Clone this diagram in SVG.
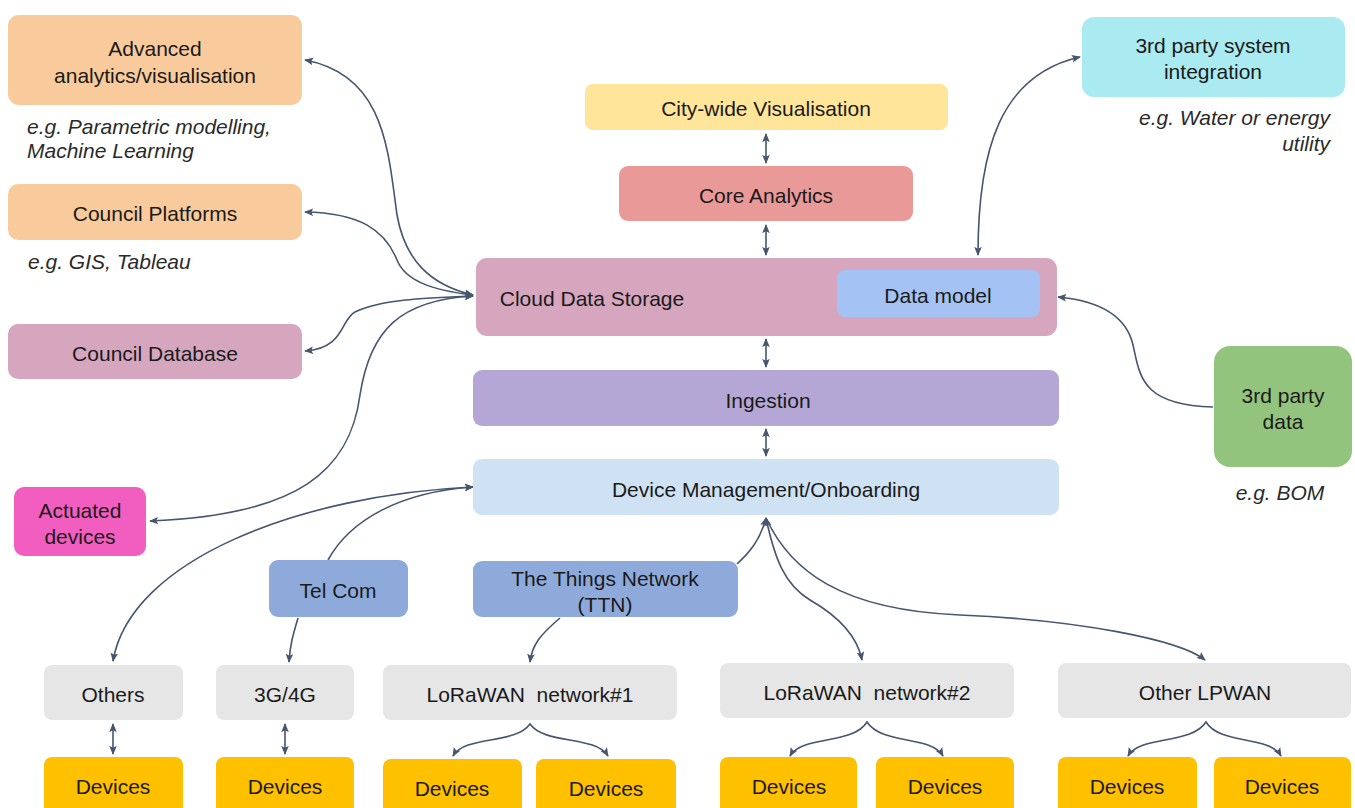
<svg xmlns="http://www.w3.org/2000/svg" width="1355" height="808" viewBox="0 0 1355 808">
<defs>
<marker id="ah" viewBox="0 0 10 10" refX="9" refY="5" markerWidth="9" markerHeight="9" markerUnits="userSpaceOnUse" orient="auto-start-reverse"><path d="M0,0.8 L10,5 L0,9.2 L2,5 z" fill="#45566d"/></marker>
<style>
.n text{font-family:"Liberation Sans",Arial,sans-serif;font-size:21px;fill:#1a1a1a;text-anchor:middle;dominant-baseline:central}
.cap{font-family:"Liberation Sans",Arial,sans-serif;font-size:21px;fill:#2a2a2a;font-style:italic;dominant-baseline:central}
.c path{fill:none;stroke:#45566d;stroke-width:1.6}
.b{marker-start:url(#ah);marker-end:url(#ah)}
.e{marker-end:url(#ah)}
.orange{fill:#f9cb9c}.pink{fill:#d5a6bd}.mag{fill:#f25ec0}.yel{fill:#ffe599}.red{fill:#ea9999}
.blue{fill:#a4c2f4}.purp{fill:#b4a7d6}.lblue{fill:#cfe2f3}.cyan{fill:#aaeaf1}.green{fill:#93c47d}
.tel{fill:#8eaadb}.grey{fill:#e6e6e6}.dev{fill:#ffc000}
</style>
</defs>
<rect width="1355" height="808" fill="#ffffff"/>

<g class="c" id="connectors">
<path class="b" d="M766,134 L766,163"/>
<path class="b" d="M766,225 L766,255"/>
<path class="b" d="M766,339 L766,367"/>
<path class="b" d="M766,429 L766,456"/>
<path class="b" d="M113,724 L113,754"/>
<path class="b" d="M285,724 L285,754"/>
<path class="b" d="M473,295 C430,285 405,260 397,215 C388,150 385,75 305,60"/>
<path class="b" d="M473,295 C430,290 405,280 397,260 C385,230 360,213 305,212"/>
<path class="b" d="M473,296 C420,298 380,300 355,312 C340,320 345,348 305,351"/>
<path class="b" d="M473,296 C400,300 370,330 360,395 C350,470 300,515 150,521"/>
<path class="b" d="M473,487 C300,495 130,560 113,661"/>
<path class="e" d="M328,560 C350,520 400,492 473,487"/>
<path class="e" d="M298,618 C293,635 290,645 289,662"/>
<path class="e" d="M560,618 C540,635 532,645 530,662"/>
<path class="b" d="M978,255 C978,150 1000,75 1080,57"/>
<path class="e" d="M1213,407 C1140,405 1140,375 1133,345 C1125,310 1090,300 1058,297"/>
<path class="e" d="M737,564 C750,552 760,540 766,518"/>
<path class="b" d="M766,518 C775,560 785,585 810,600 C845,620 858,640 862,660"/>
<path class="e" d="M766,518 C790,570 840,610 960,615 C1080,620 1180,640 1205,660"/>
<path class="b" d="M453,756 C465,735 515,745 530,724 C545,745 595,735 608,756"/>
<path class="b" d="M790,756 C802,735 853,745 867,722 C882,745 931,735 943,756"/>
<path class="b" d="M1128,756 C1140,735 1191,745 1206,722 C1220,745 1269,735 1281,756"/>
</g>

<g class="n" id="advanced"><rect class="orange" x="8" y="15" width="294" height="90" rx="11"/><text x="155" y="48">Advanced</text><text x="155" y="75">analytics/visualisation</text></g>
<text class="cap" x="27" y="126">e.g. Parametric modelling,</text>
<text class="cap" x="27" y="150">Machine Learning</text>
<g class="n" id="council-platforms"><rect class="orange" x="8" y="184" width="294" height="56" rx="10"/><text x="155" y="213">Council Platforms</text></g>
<text class="cap" x="28" y="261">e.g. GIS, Tableau</text>
<g class="n" id="council-database"><rect class="pink" x="8" y="324" width="294" height="55" rx="10"/><text x="155" y="353">Council Database</text></g>
<g class="n" id="actuated"><rect class="mag" x="14" y="487" width="132" height="69" rx="10"/><text x="80" y="510">Actuated</text><text x="80" y="536">devices</text></g>

<g class="n" id="city-vis"><rect class="yel" x="585" y="84" width="363" height="46" rx="8"/><text x="766" y="108">City-wide Visualisation</text></g>
<g class="n" id="core"><rect class="red" x="619" y="166" width="294" height="55" rx="9"/><text x="766" y="195">Core Analytics</text></g>
<g class="n" id="cloud"><rect class="pink" x="476" y="258" width="581" height="78" rx="11"/><text x="592" y="298">Cloud Data Storage</text>
<g id="data-model"><rect class="blue" x="837" y="270" width="203" height="47" rx="8"/><text x="938" y="295">Data model</text></g></g>
<g class="n" id="ingestion"><rect class="purp" x="473" y="370" width="586" height="56" rx="9"/><text x="768" y="400">Ingestion</text></g>
<g class="n" id="devmgmt"><rect class="lblue" x="473" y="459" width="586" height="56" rx="9"/><text x="766" y="489">Device Management/Onboarding</text></g>

<g class="n" id="third-sys"><rect class="cyan" x="1082" y="17" width="263" height="80" rx="12"/><text x="1213" y="45">3rd party system</text><text x="1213" y="71">integration</text></g>
<text class="cap" x="1330" y="117" text-anchor="end">e.g. Water or energy</text>
<text class="cap" x="1330" y="143" text-anchor="end">utility</text>
<g class="n" id="third-data"><rect class="green" x="1214" y="346" width="138" height="121" rx="16"/><text x="1283" y="395">3rd party</text><text x="1283" y="421">data</text></g>
<text class="cap" x="1280" y="492" text-anchor="middle">e.g. BOM</text>

<g class="n" id="telcom"><rect class="tel" x="269" y="560" width="139" height="57" rx="9"/><text x="338" y="590">Tel Com</text></g>
<g class="n" id="ttn"><rect class="tel" x="473" y="561" width="265" height="56" rx="9"/><text x="605" y="578">The Things Network</text><text x="605" y="604">(TTN)</text></g>

<g class="n" id="others"><rect class="grey" x="44" y="665" width="139" height="55" rx="8"/><text x="113" y="694">Others</text></g>
<g class="n" id="g34"><rect class="grey" x="216" y="665" width="138" height="55" rx="8"/><text x="285" y="694">3G/4G</text></g>
<g class="n" id="lora1"><rect class="grey" x="383" y="665" width="294" height="55" rx="8"/><text x="530" y="694" xml:space="preserve">LoRaWAN  network#1</text></g>
<g class="n" id="lora2"><rect class="grey" x="720" y="663" width="294" height="55" rx="8"/><text x="867" y="692" xml:space="preserve">LoRaWAN  network#2</text></g>
<g class="n" id="lpwan"><rect class="grey" x="1058" y="663" width="293" height="55" rx="8"/><text x="1205" y="692">Other LPWAN</text></g>

<g class="n" id="dev1"><rect class="dev" x="44" y="757" width="139" height="60" rx="8"/><text x="113" y="786">Devices</text></g>
<g class="n" id="dev2"><rect class="dev" x="216" y="757" width="138" height="60" rx="8"/><text x="285" y="786">Devices</text></g>
<g class="n" id="dev3"><rect class="dev" x="383" y="759" width="139" height="60" rx="8"/><text x="452" y="788">Devices</text></g>
<g class="n" id="dev4"><rect class="dev" x="536" y="759" width="140" height="60" rx="8"/><text x="606" y="788">Devices</text></g>
<g class="n" id="dev5"><rect class="dev" x="720" y="757" width="137" height="60" rx="8"/><text x="789" y="786">Devices</text></g>
<g class="n" id="dev6"><rect class="dev" x="876" y="757" width="138" height="60" rx="8"/><text x="945" y="786">Devices</text></g>
<g class="n" id="dev7"><rect class="dev" x="1058" y="757" width="139" height="60" rx="8"/><text x="1127" y="786">Devices</text></g>
<g class="n" id="dev8"><rect class="dev" x="1214" y="757" width="137" height="60" rx="8"/><text x="1282" y="786">Devices</text></g>
</svg>
